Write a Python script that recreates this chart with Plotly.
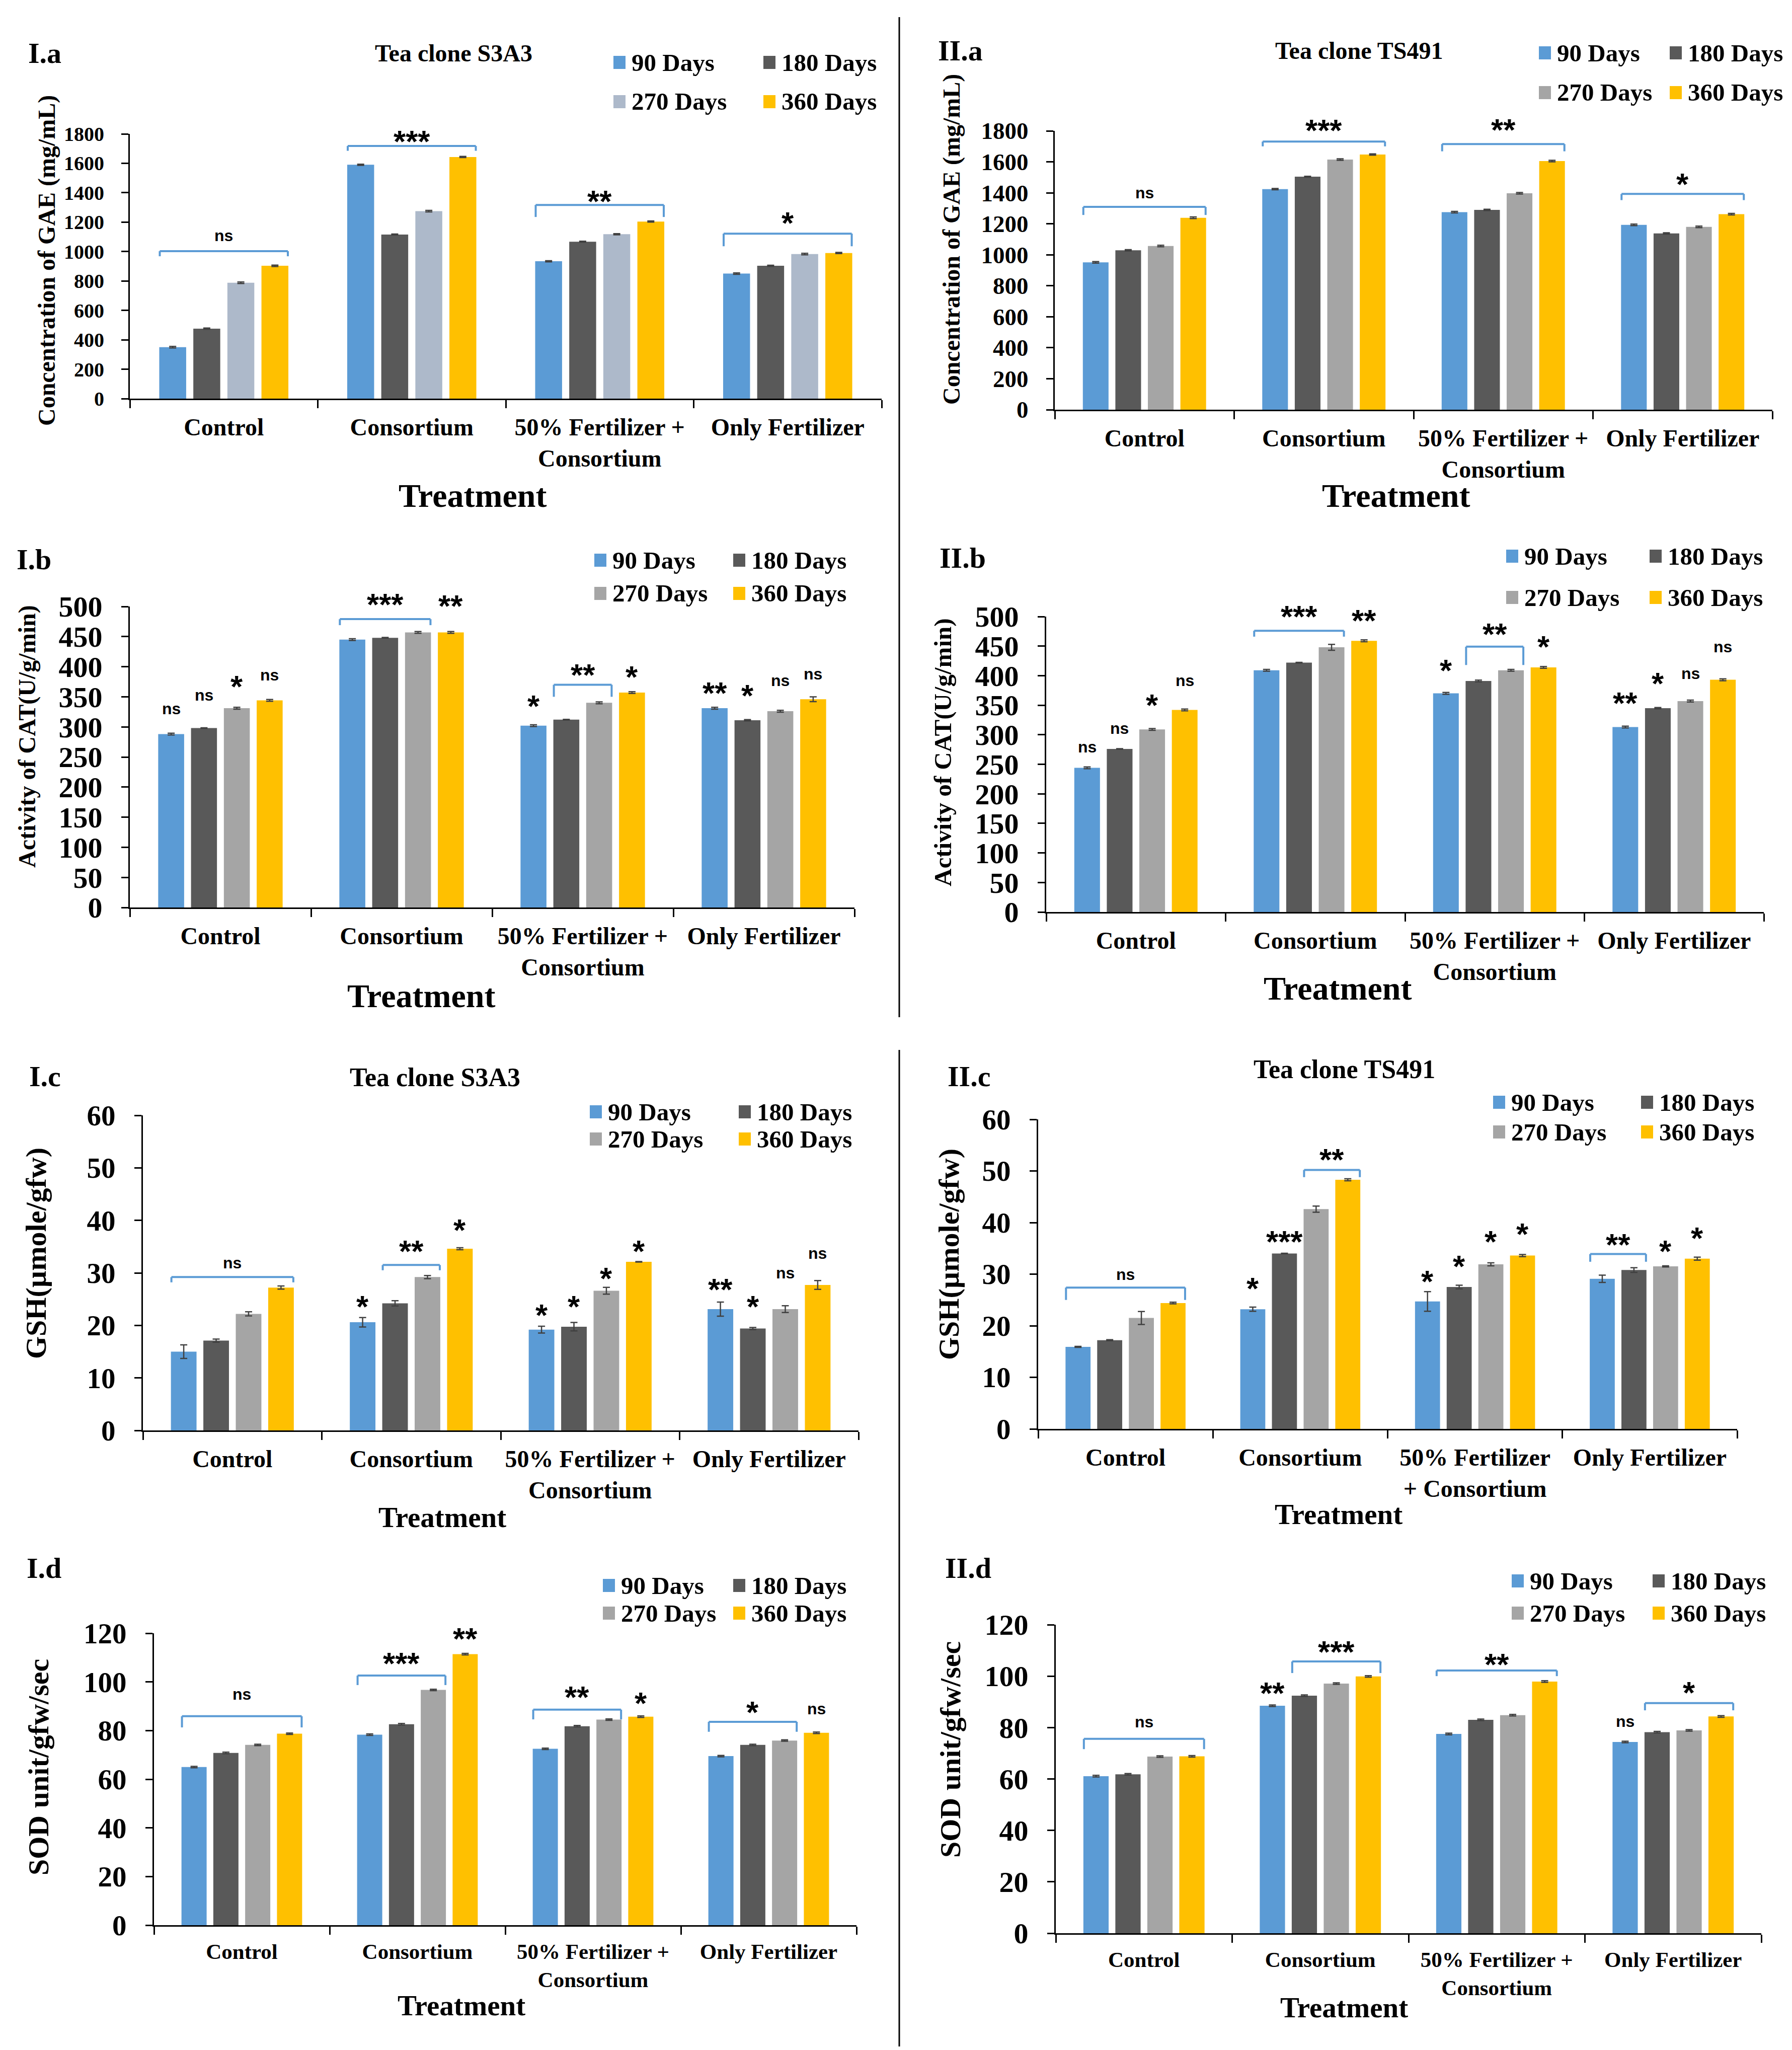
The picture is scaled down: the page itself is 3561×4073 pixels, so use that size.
import plotly.graph_objects as go

W, H = 3561, 4073
SERIF = "Liberation Serif"
SANS = "Liberation Sans"

days = ["90 Days", "180 Days", "270 Days", "360 Days"]
colors = ["#5B9BD5", "#595959", "#A5A5A5", "#FFC000"]
colors_ia = ["#5B9BD5", "#595959", "#ADB9CA", "#FFC000"]

treatments = ["Control", "Consortium", "50% Fertilizer +<br>Consortium", "Only Fertilizer"]
treatments_iic = ["Control", "Consortium", "50% Fertilizer<br>+ Consortium", "Only Fertilizer"]

# one row per series (90, 180, 270, 360 days), columns follow treatments
gae_s3a3 = [[350, 1590, 934, 850], [476, 1116, 1067, 903], [788, 1275, 1118, 983], [903, 1643, 1204, 990]]
gae_s3a3_err = [[5, 4, 4, 5], [4, 3, 3, 4], [5, 5, 4, 5], [5, 4, 4, 4]]
gae_ts491 = [[951, 1424, 1275, 1193], [1029, 1504, 1290, 1138], [1057, 1615, 1397, 1180], [1239, 1647, 1605, 1262]]
gae_ts491_err = [[5, 4, 5, 5], [4, 3, 4, 4], [5, 5, 5, 5], [5, 4, 5, 5]]

cat_s3a3 = [[288, 445, 302, 331], [298, 448, 312, 311], [331, 457, 340, 326], [344, 457, 357, 346]]
cat_s3a3_err = [[1.5, 1.5, 1.5, 1.5], [0.5, 0.5, 0.5, 1.0], [1.5, 1.5, 1.5, 1.5], [1.5, 1.5, 1.5, 4.0]]
cat_ts491 = [[244, 409, 370, 313], [276, 422, 391, 345], [309, 448, 409, 357], [342, 459, 414, 393]]
cat_ts491_err = [[1.5, 1.5, 1.5, 1.5], [0.5, 0.5, 1.5, 1.0], [1.5, 5.0, 1.5, 1.5], [1.5, 1.5, 1.5, 1.5]]

gsh_s3a3 = [[15.0, 20.6, 19.2, 23.1], [17.1, 24.2, 19.75, 19.4], [22.2, 29.2, 26.6, 23.1], [27.2, 34.6, 32.1, 27.7]]
gsh_s3a3_err = [[1.3, 0.9, 0.65, 1.35], [0.3, 0.5, 0.8, 0.2], [0.4, 0.3, 0.65, 0.65], [0.3, 0.2, 0.05, 0.85]]
gsh_ts491 = [[15.9, 23.2, 24.7, 29.1], [17.2, 34.0, 27.5, 30.8], [21.5, 42.6, 31.9, 31.5], [24.4, 48.3, 33.6, 33.0]]
gsh_ts491_err = [[0.1, 0.4, 1.9, 0.7], [0.1, 0.05, 0.35, 0.45], [1.25, 0.6, 0.3, 0.1], [0.15, 0.2, 0.2, 0.3]]

sod_s3a3 = [[65.0, 78.3, 72.5, 69.5], [70.8, 82.6, 81.8, 74.1], [74.1, 96.7, 84.5, 75.9], [78.7, 111.4, 85.7, 79.1]]
sod_ts491 = [[61.1, 88.5, 77.5, 74.4], [61.8, 92.4, 83.0, 78.2], [68.7, 97.1, 84.8, 78.9], [68.8, 99.9, 97.9, 84.3]]
sod_err = [[0.3] * 4, [0.3] * 4, [0.3] * 4, [0.3] * 4]

# brackets: (treatment, first bar, last bar, top, leg end, label, label centre)
br_gae_s3a3 = [(0, 0, 3, 1003, 968, "ns", 1109), (1, 0, 3, 1718, 1685, "***", 1803),
               (2, 0, 3, 1317, 1235, "**", 1393), (3, 0, 3, 1122, 1036, "*", 1246)]
br_gae_ts491 = [(0, 0, 3, 1309, 1257, "ns", 1400), (1, 0, 3, 1731, 1700, "***", 1852),
                (2, 0, 3, 1715, 1668, "**", 1858), (3, 0, 3, 1393, 1353, "*", 1506)]
br_cat_s3a3 = [(1, 0, 2, 479, 469, "***", 516), (2, 1, 2, 370, 350, "**", 399)]
br_cat_ts491 = [(1, 0, 2, 476, 466, "***", 513), (2, 1, 2, 449, 418, "**", 483)]
br_gsh_s3a3 = [(0, 0, 3, 29.2, 28.2, "ns", 31.9), (1, 1, 2, 31.5, 30.5, "**", 35.6)]
br_gsh_ts491 = [(0, 0, 3, 27.4, 25.0, "ns", 29.95), (1, 2, 3, 50.2, 48.8, "**", 53.7),
                (3, 0, 1, 33.9, 32.4, "**", 37.2)]
br_sod_s3a3 = [(0, 0, 3, 85.9, 81.3, "ns", 95), (1, 0, 2, 102.6, 98.7, "***", 110.7),
               (2, 0, 2, 88.6, 84.6, "**", 97), (3, 0, 2, 83.6, 79.5, "*", 90.6)]
br_sod_ts491 = [(0, 0, 3, 75.6, 71.6, "ns", 82.2), (1, 1, 3, 105.7, 101.2, "***", 112.4),
                (2, 0, 3, 102.2, 100.0, "**", 107.5), (3, 1, 3, 89.5, 86.7, "*", 96.5)]

# single bar labels: (treatment, bar, label centre, label)
sg_cat_s3a3 = [(0, 0, 330, "ns"), (0, 1, 353, "ns"), (0, 2, 380, "*"), (0, 3, 386, "ns"),
               (1, 3, 514, "**"), (2, 0, 347, "*"), (2, 3, 396, "*"), (3, 0, 369, "**"),
               (3, 1, 365, "*"), (3, 2, 377, "ns"), (3, 3, 388, "ns")]
sg_cat_ts491 = [(0, 0, 279, "ns"), (0, 1, 311, "ns"), (0, 2, 363, "*"), (0, 3, 392, "ns"),
                (1, 3, 506, "**"), (2, 0, 422, "*"), (2, 3, 462, "*"), (3, 0, 367, "**"),
                (3, 1, 400, "*"), (3, 2, 404, "ns"), (3, 3, 449, "ns")]
sg_gsh_s3a3 = [(1, 0, 25.1, "*"), (1, 3, 39.6, "*"), (2, 0, 23.4, "*"), (2, 1, 25.1, "*"),
               (2, 2, 30.4, "*"), (2, 3, 35.6, "*"), (3, 0, 28.3, "**"), (3, 1, 25.1, "*"),
               (3, 2, 30.0, "ns"), (3, 3, 33.7, "ns")]
sg_gsh_ts491 = [(1, 0, 28.7, "*"), (1, 1, 37.8, "***"), (2, 0, 30.1, "*"), (2, 1, 33.0, "*"),
                (2, 2, 37.8, "*"), (2, 3, 39.3, "*"), (3, 2, 35.9, "*"), (3, 3, 38.5, "*")]
sg_sod_s3a3 = [(1, 3, 121, "**"), (2, 3, 94.4, "*"), (3, 3, 89, "ns")]
sg_sod_ts491 = [(1, 0, 96.3, "**"), (3, 0, 82.4, "ns")]

BARGAP, GROUPGAP = 0.275, 0.21
STAR_SIZE, NS_SIZE = 62, 32

# layout of each panel in page pixels
panels = [
    dict(tag="I.a", vals=gae_s3a3, errs=gae_s3a3_err, cols=colors_ia, cats=treatments, ymax=1800, dtick=200,
         ytitle="Concentration of GAE (mg/mL)", title="Tea clone S3A3", box=(250, 1744, 258, 784),
         ytick=40, xtick=48, leg=(1211, 1509, 116, 194), lab=(46, 97), ttl=(894, 97, 48),
         yt=(85, 510, 48), xt=(931, 976, 66), br=br_gae_s3a3, sg=[]),
    dict(tag="II.a", vals=gae_ts491, errs=gae_ts491_err, cols=colors, cats=treatments, ymax=1800, dtick=200,
         ytitle="Concentration of GAE (mg/mL)", title="Tea clone TS491", box=(2088, 3514, 252, 806),
         ytick=47, xtick=48, leg=(3050, 3310, 97, 176), lab=(1854, 92), ttl=(2692, 92, 48),
         yt=(1883, 468, 48), xt=(2766, 976, 66), br=br_gae_ts491, sg=[]),
    dict(tag="I.b", vals=cat_s3a3, errs=cat_s3a3_err, cols=colors, cats=treatments, ymax=500, dtick=50,
         ytitle="Activity of CAT(U/g/min)", title=None, box=(250, 1690, 1197, 1795),
         ytick=58, xtick=48, leg=(1173, 1449, 1105, 1171), lab=(23, 1103), ttl=None,
         yt=(46, 1455, 48), xt=(829, 1970, 66), br=br_cat_s3a3, sg=sg_cat_s3a3),
    dict(tag="II.b", vals=cat_ts491, errs=cat_ts491_err, cols=colors, cats=treatments, ymax=500, dtick=50,
         ytitle="Activity of CAT(U/g/min)", title=None, box=(2071, 3497, 1217, 1804),
         ytick=58, xtick=48, leg=(2985, 3270, 1097, 1179), lab=(1857, 1100), ttl=None,
         yt=(1865, 1487, 49), xt=(2650, 1956, 66), br=br_cat_ts491, sg=sg_cat_ts491),
    dict(tag="I.c", vals=gsh_s3a3, errs=gsh_s3a3_err, cols=colors, cats=treatments, ymax=60, dtick=10,
         ytitle="GSH(µmole/gfw)", title="Tea clone S3A3", box=(276, 1698, 2208, 2834),
         ytick=57, xtick=48, leg=(1164, 1460, 2201, 2255), lab=(48, 2130), ttl=(856, 2132, 52),
         yt=(63, 2482, 58), xt=(871, 3006, 57), br=br_gsh_s3a3, sg=sg_gsh_s3a3),
    dict(tag="II.c", vals=gsh_ts491, errs=gsh_ts491_err, cols=colors, cats=treatments_iic, ymax=60, dtick=10,
         ytitle="GSH(µmole/gfw)", title="Tea clone TS491", box=(2055, 3444, 2216, 2831),
         ytick=57, xtick=48, leg=(2959, 3253, 2182, 2241), lab=(1873, 2130), ttl=(2663, 2116, 52),
         yt=(1877, 2484, 58), xt=(2652, 3000, 57), br=br_gsh_ts491, sg=sg_gsh_ts491),
    dict(tag="I.d", vals=sod_s3a3, errs=sod_err, cols=colors, cats=treatments, ymax=120, dtick=20,
         ytitle="SOD unit/gfw/sec", title=None, box=(298, 1694, 3237, 3817),
         ytick=57, xtick=43, leg=(1190, 1449, 3142, 3197), lab=(43, 3107), ttl=None,
         yt=(68, 3503, 58), xt=(909, 3976, 57), br=br_sod_s3a3, sg=sg_sod_s3a3),
    dict(tag="II.d", vals=sod_ts491, errs=sod_err, cols=colors, cats=treatments, ymax=120, dtick=20,
         ytitle="SOD unit/gfw/sec", title=None, box=(2090, 3492, 3220, 3833),
         ytick=58, xtick=43, leg=(2996, 3276, 3133, 3197), lab=(1868, 3107), ttl=None,
         yt=(1880, 3468, 58), xt=(2663, 3980, 57), br=br_sod_ts491, sg=sg_sod_ts491),
]


def px(x):
    return x / W


def py(y):
    return 1 - y / H


def bar_centre(cat, k):
    slot = (1 - BARGAP) / 4
    return cat - (1 - BARGAP) / 2 + (k + 0.5) * slot


def paper_text(text, x, y, size, xanchor="center", angle=0, family=SERIF):
    return dict(text=text, x=px(x), y=py(y), xref="paper", yref="paper", xanchor=xanchor,
                yanchor="middle", textangle=angle, showarrow=False,
                font=dict(family=family, size=size, color="black", weight="bold"))


def sig_text(text, x, y, xr, ydom):
    star = text != "ns"
    size = STAR_SIZE if star else NS_SIZE
    return dict(text=text, x=x, y=y, xref=xr, yref=ydom, showarrow=False,
                xanchor="center", yanchor="middle", yshift=-0.24 * size if star else 0,
                font=dict(family=SANS, size=size, color="black", weight="bold"))


slot = (1 - BARGAP) / 4
fig = go.Figure()
shapes, annots, axes = [], [], {}

for n, p in enumerate(panels, start=1):
    xr = "x" if n == 1 else f"x{n}"
    yr = "y" if n == 1 else f"y{n}"
    for k in range(4):
        fig.add_trace(go.Bar(
            x=p["cats"], y=p["vals"][k], name=days[k], showlegend=False,
            marker=dict(color=p["cols"][k], line_width=0),
            error_y=dict(type="data", array=p["errs"][k], color="#404040", thickness=2.5, width=7),
            xaxis=xr, yaxis=yr))

    x0, x1, yt, yb = p["box"]
    axes["xaxis" if n == 1 else f"xaxis{n}"] = dict(
        domain=[px(x0), px(x1)], anchor=yr, type="category", range=[-0.5, 3.5], automargin=False,
        showline=True, linecolor="black", linewidth=3, ticks="outside", tickson="boundaries",
        ticklen=16, tickwidth=3, tickcolor="black", ticklabelstandoff=12,
        tickfont=dict(family=SERIF, size=p["xtick"], color="black", weight="bold"),
        showgrid=False, zeroline=False)
    axes["yaxis" if n == 1 else f"yaxis{n}"] = dict(
        domain=[py(yb), py(yt)], anchor=xr, range=[0, p["ymax"]], dtick=p["dtick"], automargin=False,
        showline=True, linecolor="black", linewidth=3, ticks="outside", ticklen=14,
        tickwidth=3, tickcolor="black", ticklabelstandoff=26,
        tickfont=dict(family=SERIF, size=p["ytick"], color="black", weight="bold"),
        showgrid=False, zeroline=False)

    # panel tag, title, axis titles
    annots.append(paper_text(p["tag"], p["lab"][0], p["lab"][1], 58, xanchor="left"))
    if p["ttl"]:
        annots.append(paper_text(p["title"], p["ttl"][0], p["ttl"][1], p["ttl"][2]))
    annots.append(paper_text(p["ytitle"], p["yt"][0], p["yt"][1], p["yt"][2], angle=-90))
    annots.append(paper_text("Treatment", p["xt"][0], p["xt"][1], p["xt"][2]))

    # legend drawn by hand: two columns, two rows
    lx1, lx2, ly1, ly2 = p["leg"]
    for k in range(4):
        sx = lx1 if k % 2 == 0 else lx2
        cy = ly1 if k < 2 else ly2
        shapes.append(dict(type="rect", xref="paper", yref="paper", x0=px(sx), x1=px(sx + 24),
                           y0=py(cy + 13), y1=py(cy - 13), fillcolor=p["cols"][k], line_width=0))
        annots.append(paper_text(days[k], sx + 34, cy, 49, xanchor="left"))

    # significance brackets and marks (label height as a share of the y axis so
    # that marks above the axis top are still shown)
    ydom = yr + " domain"
    for cat, b0, b1, top, leg, lab, ly in p["br"]:
        xa = bar_centre(cat, b0) - 0.38 * slot
        xb = bar_centre(cat, b1) + 0.38 * slot
        line = dict(color="#5B9BD5", width=4)
        for seg in [(xa, leg, xa, top), (xa, top, xb, top), (xb, top, xb, leg)]:
            shapes.append(dict(type="line", xref=xr, yref=yr, x0=seg[0], y0=seg[1], x1=seg[2], y1=seg[3], line=line))
        annots.append(sig_text(lab, (xa + xb) / 2, ly / p["ymax"], xr, ydom))
    for cat, k, ly, lab in p["sg"]:
        annots.append(sig_text(lab, bar_centre(cat, k), ly / p["ymax"], xr, ydom))

# vertical dividers between the two clones
shapes.append(dict(type="line", xref="paper", yref="paper", x0=px(1779), x1=px(1779), y0=py(26), y1=py(2013),
                   line=dict(color="black", width=3)))
shapes.append(dict(type="line", xref="paper", yref="paper", x0=px(1779), x1=px(1779), y0=py(2078), y1=py(4058),
                   line=dict(color="black", width=3)))

fig.update_layout(
    width=W, height=H, margin=dict(l=0, r=0, t=0, b=0),
    paper_bgcolor="white", plot_bgcolor="white",
    barmode="group", bargap=BARGAP, bargroupgap=GROUPGAP,
    font=dict(family=SERIF, color="black"),
    shapes=shapes, annotations=annots, showlegend=False,
    **axes)

fig.write_html("out.html")
